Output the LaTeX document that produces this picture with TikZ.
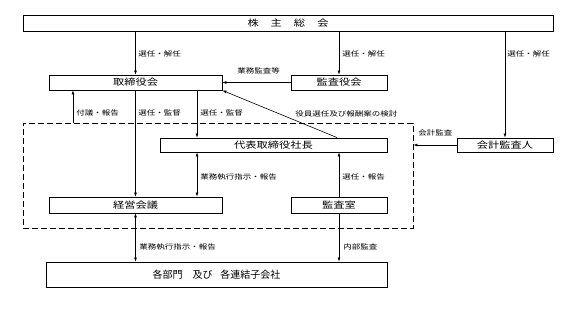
\documentclass[tikz,border=0pt]{standalone}
\usepackage{fontspec}
\usetikzlibrary{arrows.meta,positioning,calc}
\newfontfamily\jp[FakeStretch=1.25]{Noto Sans CJK JP}
\newfontfamily\jpn{Noto Sans CJK JP}

\begin{document}
\begin{tikzpicture}[
  x=1pt, y=-1pt,
  >={Latex[length=4pt,width=3pt]},
  bx/.style={draw, line width=0.9pt, inner sep=0pt, font=\fontsize{9}{10}\jp},
  lb/.style={anchor=west, inner sep=0pt, font=\fontsize{6.8}{7}\jp},
  every path/.style={line width=0.6pt}]
\useasboundingbox (0,0) rectangle (582,312);

% ===== boxes =====
\node[bx, minimum width=530, minimum height=16] (gm)  at (288,23)    {株\hspace{12pt}主\hspace{12pt}総\hspace{12pt}会};
\node[bx, minimum width=173, minimum height=15] (bod) at (135.5,82.5) {取締役会};
\node[bx, minimum width=96,  minimum height=15] (kan) at (339,82.5)   {監査役会};
\node[bx, minimum width=227, minimum height=14] (ceo) at (273.5,145)  {代表取締役社長};
\node[bx, minimum width=96,  minimum height=14] (kai) at (505,145)    {会計監査人};
\node[bx, minimum width=173, minimum height=16] (mtg) at (135.5,205)  {経営会議};
\node[bx, minimum width=96,  minimum height=16] (ias) at (339,205)    {監査室};
\node[bx, minimum width=341, minimum height=25, font=\fontsize{10}{11}\jpn] (dep) at (216.5,274.5)
  {各部門\hspace{10pt}及び\hspace{8pt}各連結子会社};
\node[draw, dashed, dash pattern=on 6pt off 3pt, line width=0.9pt,
  minimum width=390, minimum height=105, inner sep=0pt] (grp) at (218,175.5) {};

% ===== helper x positions =====
\coordinate (fx) at (73,0);
\coordinate (sx) at (197,0);
\coordinate (dx) at (337,0);

% ===== edges =====
\draw[->] (gm.south -| bod) -- (bod.north);
\draw[->] (gm.south -| kan) -- (kan.north);
\draw[->] (gm.south -| kai) -- (kai.north);
\draw[->] (kan.west) -- (bod.east);
\draw[->] (ceo.north -| dx) -- (bod.south east);
\draw[->] (grp.north -| fx) -- (bod.south -| fx);
\draw[->] (bod.south) -- (mtg.north);
\draw[->] (bod.south -| sx) -- (ceo.north -| sx);
\draw[<->] (ceo.south -| sx) -- (mtg.north -| sx);
\draw[->] (ias.north) -- (ceo.south -| ias);
\draw[->] (kai.west) -- (grp.east |- kai);
\draw[<->] (mtg.south) -- (dep.north -| mtg);
\draw[->] (ias.south) -- (dep.north -| ias);

% ===== labels =====
\node[lb] (l1)  at (138,54)  {選任・解任};
\node[lb] (l2)  at (342,54)  {選任・解任};
\node[lb] (l3)  at (507,54)  {選任・解任};
\node[lb] (l4)  at (237,71)  {業務監査等};
\node[lb] (l5)  at (76,113)  {付議・報告};
\node[lb] (l6)  at (138,113) {選任・監督};
\node[lb] (l7)  at (200,113) {選任・監督};
\node[lb] (l8)  at (295,114) {役員選任及び報酬案の検討};
\node[lb] (l9)  at (418,133) {会計監査};
\node[lb] (l10) at (200,177) {業務執行指示・報告};
\node[lb] (l11) at (342,177) {選任・報告};
\node[lb] (l12) at (139,247) {業務執行指示・報告};
\node[lb] (l13) at (343,247) {内部監査};

\end{tikzpicture}
\end{document}
